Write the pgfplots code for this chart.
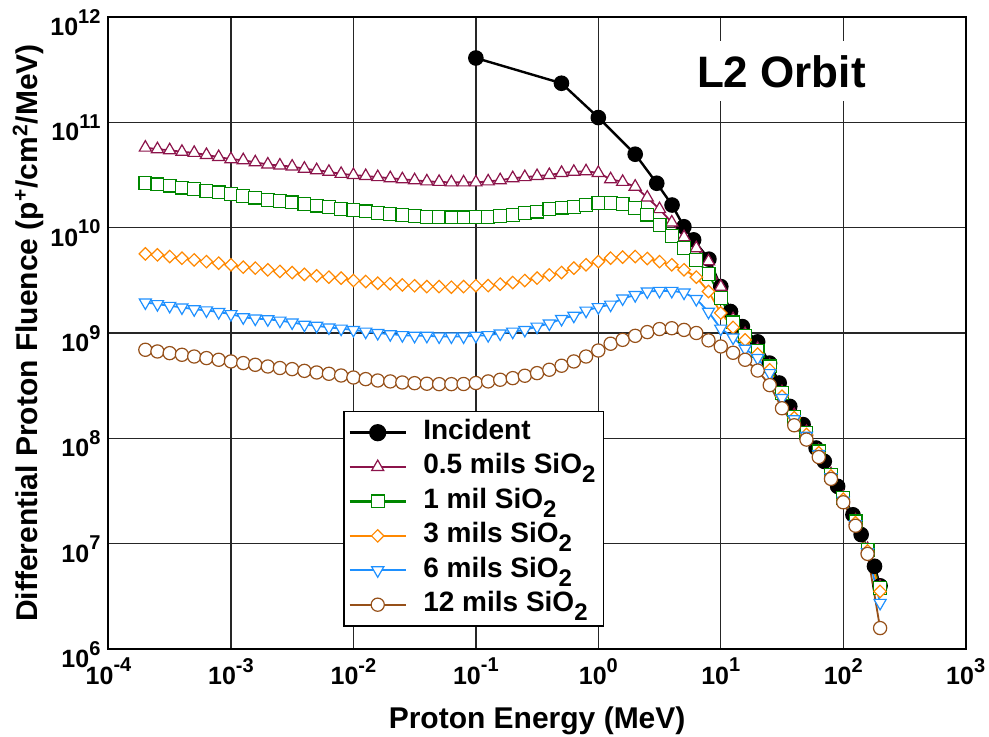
\documentclass[border=0pt]{standalone}
\usepackage{fontspec}
\setmainfont{Liberation Sans}
\usepackage{pgfplots}
\usepackage{pgfplotstable}
\pgfplotsset{compat=1.18}

\definecolor{cA}{RGB}{140,20,75}
\definecolor{cB}{RGB}{0,135,0}
\definecolor{cC}{RGB}{255,136,0}
\definecolor{cD}{RGB}{30,144,255}
\definecolor{cE}{RGB}{150,80,25}

% tick label 10^n
\newcommand{\tl}[1]{10\raisebox{0.95ex}{\fontsize{10}{10}\selectfont #1}}
% big lowered subscript used in the legend
\newcommand{\lsub}[1]{\raisebox{-4.5pt}{\fontsize{12}{12}\selectfont #1}}

% incident spectrum
\pgfplotstableread{
E Y
0.1 4.08e11
0.5 2.35e11
1 1.11e11
2 4.98e10
3 2.64e10
4 1.64e10
5 1.02e10
6 7.66e9
8 5.02e9
10 2.76e9
12 1.60e9
15 1.15e9
20 8.24e8
25 5.18e8
30 3.35e8
36.6 2.01e8
47 1.35e8
60 8.09e7
70 6.04e7
90 3.50e7
120 1.88e7
140 1.22e7
180 6.10e6
200 3.98e6
}\incident

% behind shielding: A 0.5 mil, B 1 mil, C 3 mils, D 6 mils, F 12 mils
\pgfplotstableread{
E A B C D F
2.00e-4 5.75e10 2.66e10 5.64e9 1.95e9 6.93e8
2.51e-4 5.56e10 2.57e10 5.52e9 1.88e9 6.68e8
3.16e-4 5.43e10 2.51e10 5.32e9 1.81e9 6.44e8
3.98e-4 5.25e10 2.40e10 5.13e9 1.75e9 6.21e8
5.01e-4 5.13e10 2.34e10 4.94e9 1.68e9 5.98e8
6.31e-4 4.90e10 2.24e10 4.76e9 1.64e9 5.78e8
7.94e-4 4.68e10 2.16e10 4.60e9 1.58e9 5.57e8
1.00e-3 4.47e10 2.09e10 4.44e9 1.51e9 5.37e8
1.26e-3 4.37e10 2.00e10 4.22e9 1.41e9 5.18e8
1.58e-3 4.17e10 1.93e10 4.13e9 1.37e9 4.99e8
2.00e-3 3.98e10 1.84e10 3.98e9 1.35e9 4.81e8
2.51e-3 3.89e10 1.80e10 3.84e9 1.31e9 4.65e8
3.16e-3 3.80e10 1.74e10 3.75e9 1.26e9 4.54e8
3.98e-3 3.63e10 1.67e10 3.60e9 1.20e9 4.37e8
5.01e-3 3.51e10 1.62e10 3.49e9 1.17e9 4.22e8
6.31e-3 3.39e10 1.57e10 3.39e9 1.13e9 4.10e8
7.94e-3 3.24e10 1.51e10 3.32e9 1.10e9 3.95e8
1.00e-2 3.16e10 1.48e10 3.15e9 1.07e9 3.78e8
1.26e-2 3.09e10 1.43e10 3.08e9 1.03e9 3.65e8
1.58e-2 3.02e10 1.38e10 2.97e9 1.00e9 3.54e8
2.00e-2 2.95e10 1.35e10 2.93e9 9.75e8 3.47e8
2.51e-2 2.88e10 1.32e10 2.86e9 9.55e8 3.39e8
3.16e-2 2.82e10 1.29e10 2.81e9 9.40e8 3.34e8
3.98e-2 2.75e10 1.27e10 2.76e9 9.40e8 3.30e8
5.01e-2 2.72e10 1.26e10 2.76e9 9.27e8 3.27e8
6.31e-2 2.69e10 1.25e10 2.72e9 9.27e8 3.27e8
7.94e-2 2.69e10 1.25e10 2.76e9 9.27e8 3.28e8
0.100 2.69e10 1.26e10 2.81e9 9.40e8 3.35e8
0.126 2.75e10 1.27e10 2.82e9 9.55e8 3.47e8
0.158 2.82e10 1.29e10 2.91e9 9.89e8 3.60e8
0.200 2.95e10 1.32e10 3.01e9 1.03e9 3.73e8
0.251 3.02e10 1.37e10 3.15e9 1.07e9 3.93e8
0.316 3.09e10 1.42e10 3.32e9 1.15e9 4.16e8
0.398 3.16e10 1.50e10 3.56e9 1.23e9 4.48e8
0.501 3.31e10 1.55e10 3.75e9 1.36e9 4.89e8
0.631 3.39e10 1.58e10 4.13e9 1.46e9 5.37e8
0.794 3.43e10 1.64e10 4.44e9 1.63e9 5.98e8
1.00 3.31e10 1.71e10 4.76e9 1.76e9 6.82e8
1.26 2.88e10 1.71e10 5.13e9 1.86e9 7.91e8
1.58 2.72e10 1.67e10 5.25e9 2.13e9 8.61e8
2.00 2.45e10 1.53e10 5.32e9 2.29e9 9.40e8
2.51 1.93e10 1.33e10 5.09e9 2.48e9 1.02e9
3.16 1.50e10 1.06e10 4.76e9 2.51e9 1.09e9
3.98 1.12e10 8.36e9 4.44e9 2.51e9 1.11e9
5.01 8.13e9 6.38e9 3.98e9 2.42e9 1.07e9
6.31 6.38e9 4.94e9 3.39e9 2.10e9 1.00e9
7.94 4.79e9 3.65e9 2.48e9 1.59e9 8.51e8
10.0 2.75e9 2.14e9 1.55e9 1.10e9 7.45e8
12.6 1.35e9 1.26e9 1.13e9 9.06e8 6.49e8
15.8 9.77e8 9.40e8 8.61e8 7.08e8 5.57e8
20.0 7.08e8 6.82e8 6.31e8 5.78e8 4.40e8
25.1 4.90e8 4.81e8 4.47e8 4.16e8 3.20e8
31.6 2.75e8 2.69e8 2.51e8 2.41e8 1.93e8
39.8 1.66e8 1.61e8 1.57e8 1.52e8 1.33e8
50.1 1.15e8 1.12e8 1.09e8 1.06e8 9.73e7
63.1 7.59e7 7.52e7 7.31e7 7.10e7 6.64e7
79.4 4.57e7 4.52e7 4.40e7 4.27e7 4.12e7
100 2.75e7 2.71e7 2.64e7 2.56e7 2.47e7
126 1.66e7 1.63e7 1.58e7 1.53e7 1.48e7
158 8.91e6 8.77e6 8.53e6 8.28e6 8.00e6
200 3.89e6 3.80e6 3.52e6 2.74e6 1.58e6
}\shield

\begin{document}
\begin{tikzpicture}
\begin{loglogaxis}[
    width=428.6pt, height=316pt, scale only axis,
    xmin=1e-4, xmax=1e3, ymin=1e6, ymax=1e12,
    xtick={1e-4,1e-3,1e-2,1e-1,1,1e1,1e2,1e3},
    xticklabels={\tl{-4},\tl{-3},\tl{-2},\tl{-1},\tl{0},\tl{1},\tl{2},\tl{3}},
    ytick={1e6,1e7,1e8,1e9,1e10,1e11,1e12},
    yticklabels={\tl{6},\tl{7},\tl{8},\tl{9},\tl{10},\tl{11},\tl{12}},
    grid=major,
    major grid style={line width=0.7pt, black!85},
    major tick length=0pt, minor tick length=0pt,
    axis line style={line width=1pt},
    tick label style={font=\fontsize{12.5}{12.5}\selectfont\bfseries},
    xticklabel style={yshift=-1pt},
    yticklabel style={yshift=-2.75pt, xshift=-0.5pt},
    xlabel={Proton Energy (MeV)},
    ylabel={Differential Proton Fluence (p\textsuperscript{+}/cm\textsuperscript{2}/MeV)},
    label style={font=\fontsize{15}{15}\selectfont\bfseries},
    xlabel style={at={(axis description cs:0.5,-0.113)}, anchor=center},
    ylabel style={at={(axis description cs:-0.0934,0.5)}, anchor=center},
    legend style={at={(0.274,0.377)}, anchor=north west, draw=black,
        line width=0.75pt, inner xsep=2pt, inner ysep=2pt, row sep=0pt,
        font=\fontsize{14}{14}\selectfont\bfseries,
        nodes={inner ysep=2pt, text height=10pt, text depth=3.2pt},
        cells={anchor=west}},
    legend image code/.code={\draw[mark repeat=2,mark phase=2,#1] plot coordinates {(0pt,0pt) (14pt,0pt) (28pt,0pt)}; \path (34pt,0pt);},
]
\coordinate (ll) at (rel axis cs:0,0);
\coordinate (ur) at (rel axis cs:1,1);

\addplot[black, line width=1.2pt, mark=*, mark size=3.3pt,
    legend image post style={line width=1.6pt, mark size=3.5pt}] table[x=E,y=Y]{\incident};
\addlegendentry{Incident}

\addplot[cA, line width=0.9pt, mark=triangle*, mark size=3.5pt,
    mark options={fill=white, line width=0.6pt},
    legend image post style={line width=1.1pt}] table[x=E,y=A]{\shield};
\addlegendentry{0.5 mils SiO\lsub{2}}

\addplot[cB, line width=0.9pt, mark=square*, mark size=3.2pt,
    mark options={fill=white, line width=0.6pt},
    legend image post style={line width=1.1pt}] table[x=E,y=B]{\shield};
\addlegendentry{1 mil SiO\lsub{2}}

\addplot[cC, line width=0.9pt, mark=square*, mark size=2.2pt,
    mark options={rotate=45, fill=white, line width=0.6pt},
    legend image post style={line width=1.1pt}] table[x=E,y=C]{\shield};
\addlegendentry{3 mils SiO\lsub{2}}

\addplot[cD, line width=0.9pt, mark=triangle*, mark size=3.5pt,
    mark options={rotate=180, fill=white, line width=0.6pt},
    legend image post style={line width=1.1pt}] table[x=E,y=D]{\shield};
\addlegendentry{6 mils SiO\lsub{2}}

\addplot[cE, line width=0.9pt, mark=*, mark size=3.3pt,
    mark options={fill=white, line width=0.6pt},
    legend image post style={line width=1.1pt}] table[x=E,y=F]{\shield};
\addlegendentry{12 mils SiO\lsub{2}}

\node[fill=white, inner xsep=6pt, minimum height=30pt,
    font=\fontsize{22}{22}\selectfont\bfseries] at (rel axis cs:0.785,0.914) {L2 Orbit};
\end{loglogaxis}
\pgfresetboundingbox
\path[use as bounding box] ([xshift=-54.25pt,yshift=-43.5pt]ll) rectangle ([xshift=11.65pt,yshift=8.5pt]ur);
\end{tikzpicture}
\end{document}
